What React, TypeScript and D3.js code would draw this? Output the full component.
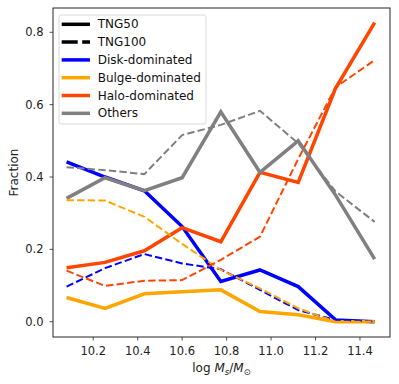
import React, { useEffect, useRef } from 'react';
import * as d3 from 'd3';

// log stellar mass bin centres
const massBins = [10.08, 10.253, 10.43, 10.6, 10.774, 10.95, 11.122, 11.29, 11.466];

const categories = ['Disk-dominated', 'Bulge-dominated', 'Halo-dominated', 'Others'];
const colors = ['#0000ff', '#ffa500', '#ff4500', '#808080'];

// TNG50 (solid)
const tng50Disk = [0.442, 0.40, 0.362, 0.263, 0.111, 0.143, 0.097, 0.005, 0.0];
const tng50Bulge = [0.067, 0.037, 0.077, 0.083, 0.088, 0.028, 0.019, 0.0, 0.0];
const tng50Halo = [0.149, 0.164, 0.196, 0.26, 0.221, 0.413, 0.385, 0.645, 0.827];
const tng50Others = [0.341, 0.398, 0.362, 0.398, 0.58, 0.413, 0.50, 0.35, 0.173];

// TNG100 (dashed)
const tng100Disk = [0.097, 0.148, 0.187, 0.161, 0.145, 0.088, 0.032, 0.005, 0.0];
const tng100Bulge = [0.336, 0.335, 0.29, 0.215, 0.143, 0.092, 0.037, 0.0, 0.0];
const tng100Halo = [0.141, 0.099, 0.113, 0.115, 0.171, 0.235, 0.45, 0.648, 0.723];
const tng100Others = [0.427, 0.419, 0.408, 0.516, 0.544, 0.583, 0.493, 0.36, 0.276];

const xTicks = [10.2, 10.4, 10.6, 10.8, 11.0, 11.2, 11.4];
const yTicks = [0.0, 0.2, 0.4, 0.6, 0.8];

const FONT = 'DejaVu Sans, sans-serif';

const App = () => {
  const svgRef = useRef(null);

  useEffect(() => {
    const width = 399;
    const height = 384;
    const svg = d3.select(svgRef.current).attr('width', width).attr('height', height);
    svg.selectAll('*').remove();

    const left = 53, right = 390, top = 8, bottom = 337;

    const x = d3.scaleLinear().domain([10.019, 11.535]).range([left, right]);
    const y = d3.scaleLinear().domain([-0.0423, 0.8672]).range([bottom, top]);

    const line = d3.line<number>()
      .x((d, i) => x(massBins[i]))
      .y(d => y(d));

    const solid = [tng50Disk, tng50Bulge, tng50Halo, tng50Others];
    const dashed = [tng100Disk, tng100Bulge, tng100Halo, tng100Others];

    const plot = svg.append('g');

    solid.forEach((vals, k) => {
      plot.append('path')
        .attr('d', line(vals))
        .attr('fill', 'none')
        .attr('stroke', colors[k])
        .attr('stroke-width', 3.5)
        .attr('stroke-linejoin', 'miter')
        .attr('stroke-linecap', 'butt');
    });

    dashed.forEach((vals, k) => {
      plot.append('path')
        .attr('d', line(vals))
        .attr('fill', 'none')
        .attr('stroke', colors[k])
        .attr('stroke-width', 2)
        .attr('stroke-dasharray', '7.4,3.2')
        .attr('stroke-linecap', 'butt');
    });

    // frame
    svg.append('rect')
      .attr('x', left)
      .attr('y', top)
      .attr('width', right - left)
      .attr('height', bottom - top)
      .attr('fill', 'none')
      .attr('stroke', '#262626')
      .attr('stroke-width', 1);

    // x axis
    const xAxis = svg.append('g');
    xTicks.forEach(t => {
      xAxis.append('line')
        .attr('x1', x(t)).attr('x2', x(t))
        .attr('y1', bottom).attr('y2', bottom + 3.5)
        .attr('stroke', '#262626').attr('stroke-width', 0.8);
      xAxis.append('text')
        .attr('x', x(t))
        .attr('y', bottom + 13.5)
        .attr('text-anchor', 'middle')
        .attr('dominant-baseline', 'central')
        .attr('font-family', FONT)
        .attr('font-size', 11.5)
        .attr('fill', '#222')
        .text(t.toFixed(1));
    });

    // y axis
    const yAxis = svg.append('g');
    yTicks.forEach(t => {
      yAxis.append('line')
        .attr('x1', left - 3.5).attr('x2', left)
        .attr('y1', y(t)).attr('y2', y(t))
        .attr('stroke', '#262626').attr('stroke-width', 0.8);
      yAxis.append('text')
        .attr('x', left - 9.5)
        .attr('y', y(t))
        .attr('text-anchor', 'end')
        .attr('dominant-baseline', 'central')
        .attr('font-family', FONT)
        .attr('font-size', 11.5)
        .attr('fill', '#222')
        .text(t.toFixed(1));
    });

    // axis labels
    svg.append('text')
      .attr('transform', `translate(13.5,${(top + bottom) / 2}) rotate(-90)`)
      .attr('text-anchor', 'middle')
      .attr('dominant-baseline', 'central')
      .attr('font-family', FONT)
      .attr('font-size', 12)
      .attr('fill', '#222')
      .text('Fraction');

    const xl = svg.append('text')
      .attr('x', (left + right) / 2)
      .attr('y', 372)
      .attr('text-anchor', 'middle')
      .attr('font-family', FONT)
      .attr('font-size', 12)
      .attr('fill', '#222');
    xl.append('tspan').text('log ');
    xl.append('tspan').attr('font-style', 'italic').text('M');
    xl.append('tspan').attr('font-style', 'italic').attr('font-size', 8.5).attr('dy', 2.5).text('s');
    xl.append('tspan').attr('dy', -2.5).text('/');
    xl.append('tspan').attr('font-style', 'italic').text('M');
    xl.append('tspan').attr('font-size', 8.5).attr('dy', 2.5).text('⊙');

    // legend
    const legend = svg.append('g');
    legend.append('rect')
      .attr('x', 59).attr('y', 15)
      .attr('width', 147).attr('height', 109)
      .attr('rx', 2.5)
      .attr('fill', 'white').attr('fill-opacity', 0.8)
      .attr('stroke', '#d0d0d0').attr('stroke-width', 0.8);

    const entries = [
      { label: 'TNG50', color: '#000', dash: null },
      { label: 'TNG100', color: '#000', dash: '16,4.5' },
      ...categories.map((c, k) => ({ label: c, color: colors[k], dash: null }))
    ];

    entries.forEach((e, i) => {
      const ry = 24.3 + i * 17.8;
      legend.append('line')
        .attr('x1', 61.7).attr('x2', 90)
        .attr('y1', ry).attr('y2', ry)
        .attr('stroke', e.color)
        .attr('stroke-width', 3.5)
        .attr('stroke-dasharray', e.dash);
      legend.append('text')
        .attr('x', 97.7)
        .attr('y', ry)
        .attr('dominant-baseline', 'central')
        .attr('font-family', FONT)
        .attr('font-size', 12)
        .attr('fill', '#111')
        .text(e.label);
    });
  }, []);

  return (
    <svg ref={svgRef} style={{ position: 'absolute', left: 0, top: 0, background: 'white' }} />
  );
};

export default App;
